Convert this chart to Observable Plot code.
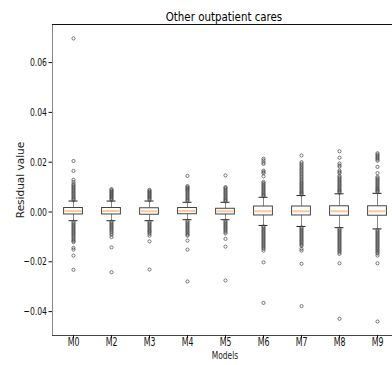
<!DOCTYPE html>
<html>
<head>
<meta charset="utf-8">
<script src="https://cdn.jsdelivr.net/npm/d3@7"></script>
<script src="https://cdn.jsdelivr.net/npm/@observablehq/plot@0.6"></script>
<style>
  html, body { margin: 0; padding: 0; background: white; overflow: hidden; }
  svg { display: block; }
</style>
</head>
<body>
<div id="chart"></div>
<script>
const models = ["M0", "M2", "M3", "M4", "M5", "M6", "M7", "M8", "M9"];
const q1 = [-0.0010, -0.0010, -0.0011, -0.0009, -0.0010, -0.0014, -0.0014, -0.0015, -0.0015];
const med = [0.0004, 0.0004, 0.0003, 0.0004, 0.0003, 0.0003, 0.0003, 0.0003, 0.0003];
const q3 = [0.0016, 0.0016, 0.0015, 0.0016, 0.0013, 0.0022, 0.0022, 0.0023, 0.0023];
const whiskerHi = [0.0044, 0.0044, 0.0044, 0.0039, 0.0039, 0.0059, 0.0066, 0.0073, 0.0075];
const whiskerLo = [-0.0035, -0.0035, -0.0035, -0.0031, -0.0031, -0.0054, -0.0058, -0.0063, -0.0068];

const outM0 = [0.0697, 0.0205, 0.0165, 0.0129, 0.0120, 0.0112, 0.0107, 0.0102, 0.0097, 0.0092, 0.0087, 0.0082, 0.0077, 0.0072, 0.0067, 0.0062, 0.0057, 0.0052, 0.0048,
  -0.0040, -0.0045, -0.0050, -0.0055, -0.0060, -0.0065, -0.0070, -0.0075, -0.0080, -0.0085, -0.0090, -0.0095, -0.0101, -0.0106, -0.0112, -0.0117, -0.0121, -0.0144, -0.0151, -0.0175, -0.0232];
const outM2 = [0.0092, 0.0088, 0.0084, 0.0080, 0.0076, 0.0072, 0.0068, 0.0064, 0.0060, 0.0056, 0.0052, 0.0048,
  -0.0039, -0.0044, -0.0049, -0.0054, -0.0059, -0.0064, -0.0069, -0.0074, -0.0080, -0.0086, -0.0092, -0.0101, -0.0142, -0.0242];
const outM3 = [0.0089, 0.0085, 0.0081, 0.0077, 0.0073, 0.0069, 0.0065, 0.0061, 0.0057, 0.0053, 0.0048,
  -0.0039, -0.0044, -0.0049, -0.0054, -0.0059, -0.0064, -0.0069, -0.0074, -0.0078, -0.0082, -0.0088, -0.0095, -0.0118, -0.0231];
const outM4 = [0.0145, 0.0104, 0.0100, 0.0096, 0.0092, 0.0088, 0.0083, 0.0078, 0.0073, 0.0068, 0.0063, 0.0058, 0.0053, 0.0048, 0.0044,
  -0.0036, -0.0041, -0.0046, -0.0051, -0.0056, -0.0061, -0.0066, -0.0071, -0.0076, -0.0081, -0.0086, -0.0091, -0.0095, -0.0115, -0.0151, -0.0279];
const outM5 = [0.0147, 0.0100, 0.0096, 0.0091, 0.0086, 0.0081, 0.0076, 0.0071, 0.0066, 0.0061, 0.0056, 0.0051, 0.0047, 0.0043,
  -0.0035, -0.0040, -0.0045, -0.0050, -0.0055, -0.0060, -0.0065, -0.0070, -0.0075, -0.0081, -0.0086, -0.0108, -0.0139, -0.0275];
const outM6 = [0.0214, 0.0207, 0.0199, 0.0193, 0.0166, 0.0161, 0.0156, 0.0143, 0.0121, 0.0116, 0.0111, 0.0106, 0.0101, 0.0096, 0.0091, 0.0086, 0.0081, 0.0076, 0.0071, 0.0067, 0.0063,
  -0.0058, -0.0063, -0.0068, -0.0073, -0.0078, -0.0083, -0.0088, -0.0093, -0.0098, -0.0103, -0.0108, -0.0113, -0.0118, -0.0123, -0.0128, -0.0133, -0.0138, -0.0143, -0.0148, -0.0155, -0.0202, -0.0365];
const outM7 = [0.0227, 0.0200, 0.0194, 0.0188, 0.0182, 0.0176, 0.0170, 0.0164, 0.0158, 0.0152, 0.0146, 0.0140, 0.0134, 0.0128, 0.0122, 0.0117, 0.0112, 0.0107, 0.0102, 0.0097, 0.0092, 0.0087, 0.0082, 0.0078, 0.0074, 0.0070,
  -0.0062, -0.0067, -0.0072, -0.0077, -0.0082, -0.0087, -0.0092, -0.0097, -0.0102, -0.0107, -0.0112, -0.0117, -0.0122, -0.0127, -0.0132, -0.0136, -0.0148, -0.0155, -0.0208, -0.0378];
const outM8 = [0.0244, 0.0218, 0.0195, 0.0187, 0.0182, 0.0166, 0.0161, 0.0156, 0.0145, 0.0140, 0.0135, 0.0130, 0.0125, 0.0120, 0.0115, 0.0110, 0.0105, 0.0100, 0.0095, 0.0090, 0.0086, 0.0082, 0.0078,
  -0.0067, -0.0072, -0.0077, -0.0082, -0.0087, -0.0092, -0.0097, -0.0102, -0.0107, -0.0112, -0.0117, -0.0122, -0.0127, -0.0132, -0.0137, -0.0142, -0.0147, -0.0152, -0.0157, -0.0162, -0.0168, -0.0206, -0.0429];
const outM9 = [0.0236, 0.0231, 0.0226, 0.0221, 0.0216, 0.0211, 0.0206, 0.0181, 0.0156, 0.0141, 0.0136, 0.0131, 0.0126, 0.0121, 0.0116, 0.0111, 0.0106, 0.0101, 0.0096, 0.0092, 0.0088, 0.0084, 0.0080,
  -0.0072, -0.0077, -0.0082, -0.0087, -0.0092, -0.0097, -0.0102, -0.0107, -0.0112, -0.0117, -0.0122, -0.0127, -0.0132, -0.0137, -0.0142, -0.0147, -0.0152, -0.0157, -0.0162, -0.0167, -0.0175, -0.0206, -0.0440];

const outliers = [outM0, outM2, outM3, outM4, outM5, outM6, outM7, outM8, outM9];
const yTicks = [-0.04, -0.02, 0.00, 0.02, 0.04, 0.06];
const titleText = "Other outpatient cares";
const xLabel = "Models";
const yLabel = "Residual value";

const boxes = models.map((m, i) => ({model: m, q1: q1[i], med: med[i], q3: q3[i], lo: whiskerLo[i], hi: whiskerHi[i]}));
const points = models.flatMap((m, i) => outliers[i].map(v => ({model: m, v})));

const yMin = -0.0496, yMax = 0.0753;
const font = "'DejaVu Sans', sans-serif";

const chart = Plot.plot({
  width: 392,
  height: 365,
  marginTop: 24,
  marginBottom: 30,
  marginLeft: 52,
  marginRight: 0,
  style: {fontFamily: font, fontSize: "11px", color: "#111", background: "white"},
  x: {type: "band", domain: models, range: [52, 397], padding: 0, label: null},
  y: {domain: [yMin, yMax], label: null},
  marks: [
    Plot.frame({stroke: "#888"}),
    Plot.ruleY([yMax], {stroke: "#111", strokeWidth: 1.2}),
    Plot.ruleY([yMin], {stroke: "#444", strokeWidth: 1.2}),
    Plot.axisY({ticks: yTicks, tickFormat: d3.format(".2f"), tickSize: 3.5, tickPadding: 2, fontSize: 11.3, label: null}),
    Plot.axisX({tickSize: 3, tickPadding: -0.5, fontSize: 11.5, label: null}),
    Plot.ruleX(boxes, {x: "model", y1: "q3", y2: "hi", stroke: "#888", strokeWidth: 1}),
    Plot.ruleX(boxes, {x: "model", y1: "lo", y2: "q1", stroke: "#888", strokeWidth: 1}),
    Plot.tickY(boxes, {x: "model", y: "hi", stroke: "#222", strokeWidth: 1, insetLeft: 14.5, insetRight: 14.5}),
    Plot.tickY(boxes, {x: "model", y: "lo", stroke: "#222", strokeWidth: 1, insetLeft: 14.5, insetRight: 14.5}),
    Plot.dot(points, {x: "model", y: "v", r: 1.6, stroke: "#444", strokeWidth: 0.7, fill: "none"}),
    Plot.barY(boxes, {x: "model", y1: "q1", y2: "q3", fill: "white", stroke: "#444", strokeWidth: 1, insetLeft: 9.6, insetRight: 9.6}),
    Plot.tickY(boxes, {x: "model", y: "med", stroke: "#ffc898", strokeWidth: 2, insetLeft: 10.5, insetRight: 10.5}),
    Plot.text([titleText], {frameAnchor: "top", lineAnchor: "middle", dy: -7.5, dx: 1.5, fontSize: 12.5, fill: "#000"}),
    Plot.text([xLabel], {frameAnchor: "bottom", lineAnchor: "middle", textAnchor: "middle", dy: 20, dx: 2.5, fontSize: 11, fill: "#222"}),
    Plot.text([yLabel], {frameAnchor: "left", textAnchor: "middle", lineAnchor: "middle", dx: -32, rotate: -90, fontSize: 10.5, fill: "#222"})
  ]
});
document.getElementById("chart").append(chart);

// the reference typography is horizontally condensed: narrow each horizontal label
chart.querySelectorAll("text").forEach(t => {
  const s = t.textContent;
  if (s === yLabel) return;
  const factor = s === titleText ? 0.82 : 0.68;
  const w = t.getComputedTextLength();
  if (w > 0) {
    t.setAttribute("textLength", (w * factor).toFixed(2));
    t.setAttribute("lengthAdjust", "spacingAndGlyphs");
  }
});
</script>
</body>
</html>
